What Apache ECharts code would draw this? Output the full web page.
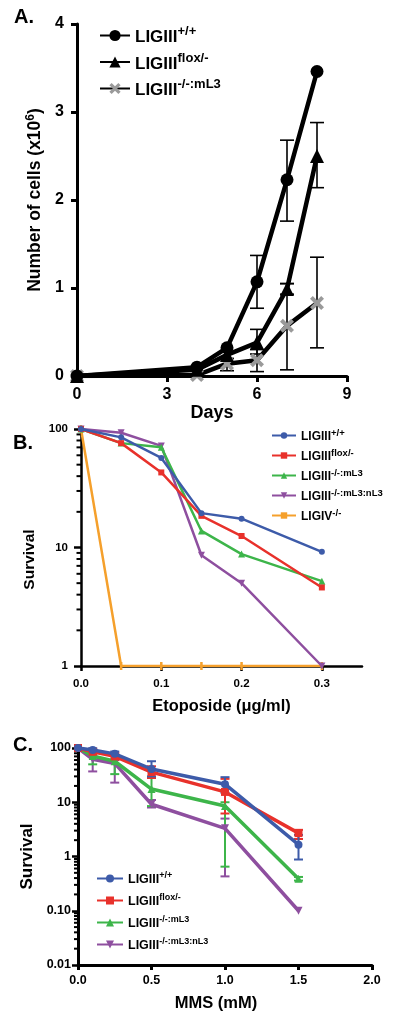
<!DOCTYPE html>
<html><head><meta charset="utf-8">
<script src="https://cdn.jsdelivr.net/npm/echarts@6/dist/echarts.min.js"></script>
<style>html,body{margin:0;padding:0;background:#fff}#c{width:400px;height:1018px}</style>
</head><body><div id="c"></div>
<script>
// ---------- Panel A data ----------
const daysA = [0, 4, 5, 6, 7, 8];
const wtA = [0, 0.1, 0.32, 1.07, 2.23, 3.46];
const floxA = [0, 0.07, 0.24, 0.38, 0.99, 2.5];
const ml3A = [0, 0.01, 0.14, 0.18, 0.57, 0.83];
const wtAErr = [[6, 0.77, 1.37], [7, 1.76, 2.68]];
const floxAErr = [[6, 0.25, 0.53], [7, 0.93, 1.05], [8, 2.14, 2.88]];
const ml3AErr = [[5, 0.06, 0.2], [6, 0.05, 0.3], [7, 0.07, 1.05], [8, 0.32, 1.35]];
const ticksAx = [0, 3, 6, 9];
const ticksAy = [0, 1, 2, 3, 4];

// ---------- Panel B data ----------
const doseB = [0, 0.05, 0.1, 0.15, 0.2, 0.3];
const wtB = [100, 85, 57, 19.5, 17.5, 9.2];
const floxB = [100, 76, 43, 18.5, 12.5, 4.6];
const ml3B = [100, 76, 70, 13.8, 8.8, 5.2];
const nl3B = [100, 93, 72, 8.6, 5.0, 1.0];
const lig4B = [100, 1, 1, 1, 1, 1];
const ticksBx = [0, 0.1, 0.2, 0.3];
const minorBy = [2, 3, 4, 5, 6, 7, 8, 9, 20, 30, 40, 50, 60, 70, 80, 90];

// ---------- Panel C data ----------
const doseC = [0, 0.1, 0.25, 0.5, 1.0, 1.5];
const wtC = [100, 92, 78, 41, 21.5, 1.65];
const floxC = [100, 85, 70, 36, 15.5, 2.7];
const ml3C = [100, 71, 57, 17.5, 8.5, 0.39];
const nl3C = [100, 62, 52, 9.2, 3.3, 0.1];
const wtCLo = [null, 85, 70, 30, 15, 0.88], wtCHi = [null, 99, 86, 57, 29, 2.5];
const floxCLo = [null, 75, 60, 28, 6.2, 2.1], floxCHi = [null, 95, 80, 46, 27, 3.1];
const ml3CLo = [null, 50, 33, 8.5, 0.65, 0.36], ml3CHi = [null, 85, 62, 28, 10, 0.42];
const nl3CLo = [null, 37, 23, 8, 0.43, null], nl3CHi = [null, 70, 60, 11, 5, null];
const ticksCx = [0, 0.5, 1.0, 1.5, 2.0];
const minorCy = [0.02,0.03,0.04,0.05,0.06,0.07,0.08,0.09,0.2,0.3,0.4,0.5,0.6,0.7,0.8,0.9,2,3,4,5,6,7,8,9,20,30,40,50,60,70,80,90];

// ---------- labels ----------
const legendNames = {
  A0: ['LIGIII', '+/+'], A1: ['LIGIII', 'flox/-'], A2: ['LIGIII', '-/-:mL3'],
  B0: ['LIGIII', '+/+'], B1: ['LIGIII', 'flox/-'], B2: ['LIGIII', '-/-:mL3'], B3: ['LIGIII', '-/-:mL3:nL3'], B4: ['LIGIV', '-/-'],
  C0: ['LIGIII', '+/+'], C1: ['LIGIII', 'flox/-'], C2: ['LIGIII', '-/-:mL3'], C3: ['LIGIII', '-/-:mL3:nL3']
};
const colBlue = '#3D5BA9', colRed = '#E8312B', colGreen = '#3DB54A', colPurple = '#8E4F9F', colOrange = '#F5A02C';
const FONT = '"Liberation Sans", Arial, sans-serif';

const pair = (xs, ys) => xs.map((x, i) => [x, ys[i]]);
const errRows = (xs, lo, hi) => xs.map((x, i) => [x, lo[i], hi[i]]).filter(r => r[1] != null);

function errBar(capW, color, width) {
  return function (params, api) {
    const x = api.value(0), lo = api.value(1), hi = api.value(2);
    const p1 = api.coord([x, lo]), p2 = api.coord([x, hi]);
    const st = { stroke: color, lineWidth: width };
    return { type: 'group', children: [
      { type: 'line', shape: { x1: p1[0], y1: p1[1], x2: p2[0], y2: p2[1] }, style: st },
      { type: 'line', shape: { x1: p1[0] - capW, y1: p1[1], x2: p1[0] + capW, y2: p1[1] }, style: st },
      { type: 'line', shape: { x1: p2[0] - capW, y1: p2[1], x2: p2[0] + capW, y2: p2[1] }, style: st }
    ] };
  };
}
function minorTick(len, width) {
  return function (params, api) {
    const p = api.coord([api.value(0), api.value(1)]);
    return { type: 'line', shape: { x1: p[0] - len, y1: p[1], x2: p[0], y2: p[1] }, style: { stroke: '#000', lineWidth: width } };
  };
}
function legendFmt(name) {
  const n = legendNames[name];
  return '{b|' + n[0] + '}{s|' + n[1] + '}';
}
function richLegend(bs, ss) {
  return {
    fontFamily: FONT, fontWeight: 'bold',
    rich: {
      b: { fontSize: bs, fontWeight: 'bold', fontFamily: FONT, color: '#000', verticalAlign: 'bottom' },
      s: { fontSize: ss, fontWeight: 'bold', fontFamily: FONT, color: '#000', verticalAlign: 'top', padding: [0, 0, Math.round(bs * 0.45), 0] }
    }
  };
}
const xPath = 'path://M2,0L5,3L8,0L10,2L7,5L10,8L8,10L5,7L2,10L0,8L3,5L0,2Z';

const axisTxt = (fs) => ({ fontFamily: FONT, fontWeight: 'bold', fontSize: fs, color: '#000' });
const logFmt = v => (v >= 1 ? String(Math.round(v)) : v.toFixed(2));
const titleTxt = { fontFamily: FONT, fontWeight: 'bold', fontSize: 20, color: '#000' };

const option = {
  animation: false,
  backgroundColor: '#fff',
  title: [
    { text: 'A.', left: 9, top: 2, textStyle: titleTxt },
    { text: 'B.', left: 8, top: 428, textStyle: titleTxt },
    { text: 'C.', left: 8, top: 730, textStyle: titleTxt }
  ],
  grid: [
    { left: 77, top: 24, width: 270, height: 352 },
    { left: 81, top: 429, width: 281, height: 237 },
    { left: 78, top: 748, width: 294, height: 217 }
  ],
  legend: [
    { data: ['A0', 'A1', 'A2'], orient: 'vertical', left: 94, top: 20, itemWidth: 30, itemHeight: 14, itemGap: 5.5,
      formatter: legendFmt, textStyle: richLegend(17, 13), selectedMode: false },
    { data: ['B0', 'B1', 'B2', 'B3', 'B4'], orient: 'vertical', left: 266, top: 423, itemWidth: 24, itemHeight: 8, itemGap: 5,
      formatter: legendFmt, textStyle: richLegend(12, 9.5), selectedMode: false },
    { data: ['C0', 'C1', 'C2', 'C3'], orient: 'vertical', left: 91, top: 866, itemWidth: 26, itemHeight: 10, itemGap: 7,
      formatter: legendFmt, textStyle: richLegend(12.5, 9), selectedMode: false }
  ],
  xAxis: [
    { gridIndex: 0, type: 'value', min: 0, max: 9, interval: 3,
      axisLine: { lineStyle: { color: '#000', width: 3 } }, axisTick: { length: 6, lineStyle: { color: '#000', width: 3 } },
      axisLabel: Object.assign(axisTxt(16), { margin: 11, customValues: ticksAx }), splitLine: { show: false },
      name: 'Days', nameLocation: 'middle', nameGap: 27, nameTextStyle: axisTxt(18) },
    { gridIndex: 1, type: 'value', min: 0, max: 0.35, interval: 0.1,
      axisLine: { lineStyle: { color: '#000', width: 2.5 } },
      axisTick: { length: 5, customValues: ticksBx, lineStyle: { color: '#000', width: 2.5 } },
      axisLabel: Object.assign(axisTxt(11.5), { margin: 12, customValues: ticksBx, formatter: v => v.toFixed(1) }), splitLine: { show: false },
      name: 'Etoposide (μg/ml)', nameLocation: 'middle', nameGap: 32, nameTextStyle: axisTxt(16.4) },
    { gridIndex: 2, type: 'value', min: 0, max: 2, interval: 0.5,
      axisLine: { lineStyle: { color: '#000', width: 3 } }, axisTick: { length: 5, customValues: ticksCx, lineStyle: { color: '#000', width: 3 } },
      axisLabel: Object.assign(axisTxt(12.5), { margin: 9, customValues: ticksCx, formatter: v => v.toFixed(1) }), splitLine: { show: false },
      name: 'MMS (mM)', nameLocation: 'middle', nameGap: 30,
      nameTextStyle: Object.assign(axisTxt(16.5), { padding: [0, 18, 0, 0] }) }
  ],
  yAxis: [
    { gridIndex: 0, type: 'value', min: 0, max: 4, interval: 1,
      axisLine: { lineStyle: { color: '#000', width: 3 } }, axisTick: { length: 6, lineStyle: { color: '#000', width: 3 } },
      axisLabel: Object.assign(axisTxt(16), { margin: 13, customValues: ticksAy }), splitLine: { show: false },
      name: '{t|Number of cells (x10}{s|6}{t|)}', nameLocation: 'middle', nameGap: 31,
      nameTextStyle: { rich: {
        t: { fontFamily: FONT, fontWeight: 'bold', fontSize: 17.5, color: '#000', verticalAlign: 'bottom' },
        s: { fontFamily: FONT, fontWeight: 'bold', fontSize: 12, color: '#000', verticalAlign: 'top', padding: [0, 0, 8, 0] } } } },
    { gridIndex: 1, type: 'log', logBase: 10, min: 1, max: 100,
      axisLine: { lineStyle: { color: '#000', width: 2.5 } }, axisTick: { length: 7, lineStyle: { color: '#000', width: 2.5 } },
      axisLabel: Object.assign(axisTxt(11.5), { margin: 13, formatter: logFmt }), splitLine: { show: false },
      name: 'Survival', nameLocation: 'middle', nameGap: 43,
      nameTextStyle: Object.assign(axisTxt(15.5), { padding: [0, 24, 0, 0] }) },
    { gridIndex: 2, type: 'log', logBase: 10, min: 0.01, max: 100,
      axisLine: { lineStyle: { color: '#000', width: 3 } }, axisTick: { length: 6, lineStyle: { color: '#000', width: 2.5 } },
      axisLabel: Object.assign(axisTxt(12.5), { margin: 7, formatter: logFmt }), splitLine: { show: false },
      name: 'Survival', nameLocation: 'middle', nameGap: 40, nameTextStyle: axisTxt(17) }
  ],
  series: [
    // ----- Panel A -----
    { type: 'custom', xAxisIndex: 0, yAxisIndex: 0, data: wtAErr, renderItem: errBar(7, '#000', 1.6), silent: true, z: 1 },
    { type: 'custom', xAxisIndex: 0, yAxisIndex: 0, data: floxAErr, renderItem: errBar(7, '#000', 1.6), silent: true, z: 1 },
    { type: 'custom', xAxisIndex: 0, yAxisIndex: 0, data: ml3AErr, renderItem: errBar(7, '#000', 1.6), silent: true, z: 1 },
    { name: 'A2', type: 'line', xAxisIndex: 0, yAxisIndex: 0, data: pair(daysA, ml3A), symbol: xPath, symbolSize: 14,
      lineStyle: { color: '#000', width: 4.5 }, itemStyle: { color: '#9a9a9a' }, z: 3 },
    { name: 'A1', type: 'line', xAxisIndex: 0, yAxisIndex: 0, data: pair(daysA, floxA), symbol: 'triangle', symbolSize: 14,
      lineStyle: { color: '#000', width: 4.5 }, itemStyle: { color: '#000' }, z: 4 },
    { name: 'A0', type: 'line', xAxisIndex: 0, yAxisIndex: 0, data: pair(daysA, wtA), symbol: 'circle', symbolSize: 13,
      lineStyle: { color: '#000', width: 4.5 }, itemStyle: { color: '#000' }, z: 5 },
    // ----- Panel B -----
    { type: 'custom', xAxisIndex: 1, yAxisIndex: 1, data: minorBy.map(v => [0, v]), renderItem: minorTick(4.5, 2), silent: true, clip: false },
    { name: 'B4', type: 'line', xAxisIndex: 1, yAxisIndex: 1, data: pair(doseB, lig4B), symbol: 'rect', symbolSize: [2.5, 8],
      lineStyle: { color: colOrange, width: 2.5 }, itemStyle: { color: colOrange }, z: 3 },
    { name: 'B3', type: 'line', xAxisIndex: 1, yAxisIndex: 1, data: pair(doseB, nl3B), symbol: 'triangle', symbolRotate: 180, symbolSize: 7,
      lineStyle: { color: colPurple, width: 2.5 }, itemStyle: { color: colPurple }, z: 4 },
    { name: 'B2', type: 'line', xAxisIndex: 1, yAxisIndex: 1, data: pair(doseB, ml3B), symbol: 'triangle', symbolSize: 7,
      lineStyle: { color: colGreen, width: 2.5 }, itemStyle: { color: colGreen }, z: 5 },
    { name: 'B1', type: 'line', xAxisIndex: 1, yAxisIndex: 1, data: pair(doseB, floxB), symbol: 'rect', symbolSize: 6,
      lineStyle: { color: colRed, width: 2.5 }, itemStyle: { color: colRed }, z: 6 },
    { name: 'B0', type: 'line', xAxisIndex: 1, yAxisIndex: 1, data: pair(doseB, wtB), symbol: 'circle', symbolSize: 6,
      lineStyle: { color: colBlue, width: 2.5 }, itemStyle: { color: colBlue }, z: 7 },
    // ----- Panel C -----
    { type: 'custom', xAxisIndex: 2, yAxisIndex: 2, data: minorCy.map(v => [0, v]), renderItem: minorTick(4, 2), silent: true, clip: false },
    { type: 'custom', xAxisIndex: 2, yAxisIndex: 2, data: errRows(doseC, nl3CLo, nl3CHi), renderItem: errBar(4.5, colPurple, 2), silent: true, z: 2 },
    { type: 'custom', xAxisIndex: 2, yAxisIndex: 2, data: errRows(doseC, ml3CLo, ml3CHi), renderItem: errBar(4.5, colGreen, 2), silent: true, z: 2 },
    { type: 'custom', xAxisIndex: 2, yAxisIndex: 2, data: errRows(doseC, floxCLo, floxCHi), renderItem: errBar(4.5, colRed, 2), silent: true, z: 2 },
    { type: 'custom', xAxisIndex: 2, yAxisIndex: 2, data: errRows(doseC, wtCLo, wtCHi), renderItem: errBar(4.5, colBlue, 2), silent: true, z: 2 },
    { name: 'C3', type: 'line', xAxisIndex: 2, yAxisIndex: 2, data: pair(doseC, nl3C), symbol: 'triangle', symbolRotate: 180, symbolSize: 8,
      lineStyle: { color: colPurple, width: 3.5 }, itemStyle: { color: colPurple }, z: 3 },
    { name: 'C2', type: 'line', xAxisIndex: 2, yAxisIndex: 2, data: pair(doseC, ml3C), symbol: 'triangle', symbolSize: 8,
      lineStyle: { color: colGreen, width: 3.5 }, itemStyle: { color: colGreen }, z: 4 },
    { name: 'C1', type: 'line', xAxisIndex: 2, yAxisIndex: 2, data: pair(doseC, floxC), symbol: 'rect', symbolSize: 8,
      lineStyle: { color: colRed, width: 3.5 }, itemStyle: { color: colRed }, z: 5 },
    { name: 'C0', type: 'line', xAxisIndex: 2, yAxisIndex: 2, data: pair(doseC, wtC), symbol: 'circle', symbolSize: 8,
      lineStyle: { color: colBlue, width: 3.5 }, itemStyle: { color: colBlue }, z: 6 }
  ]
};
const chart = echarts.init(document.getElementById('c'), null, { renderer: 'canvas' });
chart.setOption(option);
</script></body></html>
